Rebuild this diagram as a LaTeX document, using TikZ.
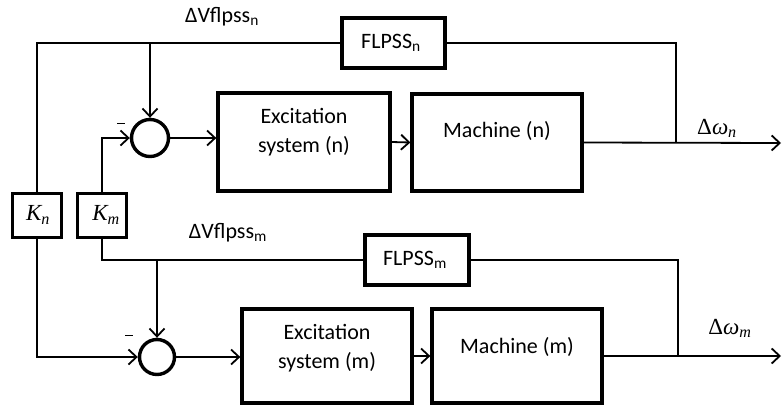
\documentclass[tikz,border=0pt]{standalone}
\usepackage{fontspec}
\setmainfont{Carlito}
\newfontfamily\mathserif{Liberation Serif}
\usetikzlibrary{arrows.meta}
\newcommand{\mvar}[1]{{\mathserif\itshape #1}}
\begin{document}
\begin{tikzpicture}[x=1pt,y=-1pt,
  blk/.style={draw,line width=3.3pt,inner sep=0pt},
  sumc/.style={draw,circle,line width=3.4pt,inner sep=0pt},
  conn/.style={line width=1.8pt},
  arr/.style={conn,-{Straight Barb[length=8pt,width=15pt,line width=1.8pt]}},
  txt/.style={font=\fontsize{22}{29}\selectfont,align=center,inner sep=0pt},
  mtxt/.style={font=\fontsize{23}{26}\selectfont,inner sep=0pt}
]
\useasboundingbox (0,0) rectangle (782,407);
% blocks
\node[blk,minimum width=172pt,minimum height=98pt] (excn) at (304,142) {};
\node[blk,minimum width=170pt,minimum height=97pt] (machn) at (497,142.5) {};
\node[blk,minimum width=103pt,minimum height=50pt] (flpssn) at (393.5,43) {};
\node[sumc,minimum size=37pt] (sumn) at (150,138) {};
\node[blk,line width=3pt,minimum width=49pt,minimum height=44pt] (Kn) at (37,215) {};
\node[blk,line width=3pt,minimum width=49pt,minimum height=44pt] (Km) at (102,215) {};
\node[sumc,minimum size=35pt] (summ) at (157,357) {};
\node[blk,minimum width=170pt,minimum height=94pt] (excm) at (327,356) {};
\node[blk,minimum width=170pt,minimum height=94pt] (machm) at (517,356) {};
\node[blk,minimum width=104pt,minimum height=50pt] (flpssm) at (417,260) {};
% texts
\node[txt] (texcn) at (304,132) {Excitation\\system (n)};
\node[txt] (tmachn) at (497,131) {Machine (n)};
\node[txt] (tflpssn) at (391,43) {FLPSS\textsubscript{n}};
\node[txt] (texcm) at (327,348) {Excitation\\system (m)};
\node[txt] (tmachm) at (517,347) {Machine (m)};
\node[txt] (tflpssm) at (415,260) {FLPSS\textsubscript{m}};
\node[mtxt] (tKn) at (38,215) {\mvar{K}\textsubscript{\mvar{n}}};
\node[mtxt] (tKm) at (106,215) {\mvar{K}\textsubscript{\mvar{m}}};
\node[txt,anchor=base] (lvn) at (222,22) {ΔVflpss$_{\mathrm{n}}$};
\node[txt,anchor=base] (lvm) at (228,238) {ΔVflpss$_{\mathrm{m}}$};
\node[mtxt,anchor=base] (lwn) at (717,134) {{\mathserif Δ}\mvar{ω}\textsubscript{\mvar{n}}};
\node[mtxt,anchor=base] (lwm) at (730,334) {{\mathserif Δ}\mvar{ω}\textsubscript{\mvar{m}}};
\node[inner sep=0pt] (minn) at (121,123) {\rule{8pt}{0.9pt}};
\node[inner sep=0pt] (minm) at (129,335) {\rule{8pt}{0.9pt}};
% coordinates
\coordinate (bn) at (sumn.north |- flpssn.west);
\coordinate (bm) at (summ.north |- flpssm.west);
\coordinate (jn) at (676,143);
\coordinate (jm) at (678,356);
\coordinate (on) at (781,143);
\coordinate (om) at (781,356);
% connectors n
\draw[conn] (Kn.north) |- (flpssn.west);
\draw[arr] (bn) -- (sumn.north);
\draw[arr] (Km.north) |- (sumn.west);
\draw[arr] (sumn.east) -- (sumn.east -| excn.west);
\draw[arr] (excn.east) -- (machn.west);
\draw[arr] (machn.east) -- (on);
\draw[conn] (flpssn.east) -| (jn);
% connectors m
\draw[arr] (Kn.south) |- (summ.west);
\draw[conn] (Km.south) |- (flpssm.west);
\draw[arr] (bm) -- (summ.north);
\draw[arr] (summ.east) -- (summ.east -| excm.west);
\draw[arr] (excm.east) -- (machm.west);
\draw[arr] (machm.east) -- (om);
\draw[conn] (flpssm.east) -| (jm);
\end{tikzpicture}
\end{document}
